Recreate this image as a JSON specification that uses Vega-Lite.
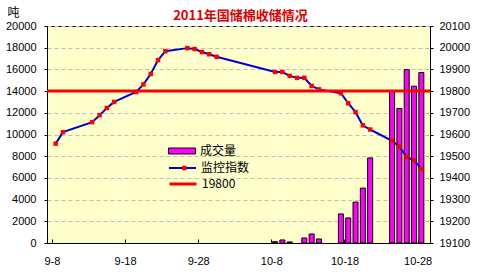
{
  "$schema": "https://vega.github.io/schema/vega-lite/v6.json",
  "autosize": {"type": "none"},
  "width": 383,
  "height": 217,
  "padding": {"left": 47, "top": 26, "right": 53, "bottom": 30},
  "background": "#FFFFFF",
  "title": {
    "text": "2011年国储棉收储情况",
    "font": "Noto Sans CJK SC",
    "fontSize": 13,
    "fontWeight": "bold",
    "color": "#DD0000",
    "anchor": "middle",
    "frame": "group",
    "baseline": "bottom",
    "offset": -30,
    "dx": 2
  },
  "datasets": {
    "volume": [
      {"date": "2011-10-08", "volume": 120},
      {"date": "2011-10-09", "volume": 280},
      {"date": "2011-10-10", "volume": 100},
      {"date": "2011-10-12", "volume": 460},
      {"date": "2011-10-13", "volume": 830},
      {"date": "2011-10-14", "volume": 370},
      {"date": "2011-10-17", "volume": 2680},
      {"date": "2011-10-18", "volume": 2310},
      {"date": "2011-10-19", "volume": 3770},
      {"date": "2011-10-20", "volume": 5060},
      {"date": "2011-10-21", "volume": 7840},
      {"date": "2011-10-24", "volume": 14020},
      {"date": "2011-10-25", "volume": 12400},
      {"date": "2011-10-26", "volume": 15980},
      {"date": "2011-10-27", "volume": 14450},
      {"date": "2011-10-28", "volume": 15710}
    ],
    "index": [
      {"date": "2011-09-08", "index": 19558},
      {"date": "2011-09-09", "index": 19611},
      {"date": "2011-09-13", "index": 19657},
      {"date": "2011-09-14", "index": 19689},
      {"date": "2011-09-15", "index": 19722},
      {"date": "2011-09-16", "index": 19750},
      {"date": "2011-09-19", "index": 19796},
      {"date": "2011-09-20", "index": 19831},
      {"date": "2011-09-21", "index": 19879},
      {"date": "2011-09-22", "index": 19943},
      {"date": "2011-09-23", "index": 19984},
      {"date": "2011-09-26", "index": 19998},
      {"date": "2011-09-27", "index": 19994},
      {"date": "2011-09-28", "index": 19980},
      {"date": "2011-09-29", "index": 19970},
      {"date": "2011-09-30", "index": 19958},
      {"date": "2011-10-08", "index": 19888},
      {"date": "2011-10-09", "index": 19888},
      {"date": "2011-10-10", "index": 19870},
      {"date": "2011-10-11", "index": 19861},
      {"date": "2011-10-12", "index": 19861},
      {"date": "2011-10-13", "index": 19824},
      {"date": "2011-10-14", "index": 19808},
      {"date": "2011-10-17", "index": 19790},
      {"date": "2011-10-18", "index": 19744},
      {"date": "2011-10-19", "index": 19703},
      {"date": "2011-10-20", "index": 19642},
      {"date": "2011-10-21", "index": 19623},
      {"date": "2011-10-24", "index": 19571},
      {"date": "2011-10-25", "index": 19544},
      {"date": "2011-10-26", "index": 19497},
      {"date": "2011-10-27", "index": 19481},
      {"date": "2011-10-28", "index": 19441}
    ],
    "level": [
      {"level": 19800}
    ]
  },
  "layer": [
    {
      "data": {"name": "volume"},
      "mark": {"type": "bar", "size": 5, "stroke": "#000000", "strokeWidth": 1},
      "encoding": {
        "x": {
          "field": "date", "type": "temporal",
          "scale": {"type": "utc", "domain": [
            {"year": 2011, "month": 9, "date": 7, "hours": 12, "utc": true},
            {"year": 2011, "month": 10, "date": 28, "hours": 12, "utc": true}
          ]},
          "axis": {
            "title": null,
            "format": "%-m-%-d",
            "values": [
              {"year": 2011, "month": 9, "date": 8, "utc": true},
              {"year": 2011, "month": 9, "date": 18, "utc": true},
              {"year": 2011, "month": 9, "date": 28, "utc": true},
              {"year": 2011, "month": 10, "date": 8, "utc": true},
              {"year": 2011, "month": 10, "date": 18, "utc": true},
              {"year": 2011, "month": 10, "date": 28, "utc": true}
            ],
            "grid": false,
            "tickSize": -4,
            "tickOffset": -3.75,
            "labelOffset": 0,
            "labelPadding": 16,
            "labelFlush": false,
            "labelOverlap": false
          }
        },
        "y": {
          "field": "volume", "type": "quantitative",
          "scale": {"domain": [0, 20000], "nice": false},
          "axis": {
            "title": "吨",
            "titleAngle": 0,
            "titleX": -34,
            "titleY": -7,
            "titleAlign": "center",
            "titleBaseline": "bottom",
            "titleFont": "Noto Sans CJK SC",
            "titleFontSize": 12,
            "titleFontWeight": "normal",
            "format": "d",
            "values": [0, 2000, 4000, 6000, 8000, 10000, 12000, 14000, 16000, 18000, 20000],
            "grid": true,
            "gridDash": [4, 3],
            "gridColor": "#BFBFBF",
            "tickSize": 3,
            "labelPadding": 8,
            "labelOverlap": false
          }
        },
        "fill": {
          "datum": "成交量",
          "type": "nominal",
          "scale": {"domain": ["成交量"], "range": ["#FF00FF"]},
          "legend": {
            "title": null,
            "orient": "none",
            "legendX": 121,
            "legendY": 118,
            "symbolSize": 729,
            "symbolType": "M-1,-0.22H1V0.22H-1Z",
            "symbolStrokeColor": "#000000",
            "symbolStrokeWidth": 1,
            "clipHeight": 14,
            "labelOffset": 4,
            "labelFont": "Noto Sans CJK SC",
            "labelFontSize": 12,
            "labelColor": "#000000",
            "padding": 0
          }
        }
      }
    },
    {
      "layer": [
        {
          "data": {"name": "index"},
          "mark": {"type": "line", "strokeWidth": 2},
          "encoding": {
            "x": {
              "field": "date", "type": "temporal",
              "scale": {"type": "utc"}
            },
            "y": {
              "field": "index", "type": "quantitative",
              "scale": {"domain": [19100, 20100], "nice": false, "zero": false},
              "axis": {
                "orient": "right",
                "title": null,
                "format": "d",
                "values": [19100, 19200, 19300, 19400, 19500, 19600, 19700, 19800, 19900, 20000, 20100],
                "grid": false,
                "tickSize": 3,
                "labelPadding": 6,
                "labelOverlap": false
              }
            },
            "stroke": {
              "datum": "监控指数",
              "type": "nominal",
              "scale": {"domain": ["监控指数"], "range": ["#0000CC"]},
              "legend": {
                "title": null,
                "orient": "none",
                "legendX": 121,
                "legendY": 135,
                "symbolSize": 729,
                "symbolType": "M-1,0H1",
                "symbolStrokeWidth": 2,
                "clipHeight": 14,
                "labelOffset": 4,
                "labelFont": "Noto Sans CJK SC",
                "labelFontSize": 12,
                "labelColor": "#000000",
                "padding": 0
              }
            }
          }
        },
        {
          "data": {"name": "level"},
          "mark": {"type": "rule", "strokeWidth": 3},
          "encoding": {
            "y": {
              "field": "level", "type": "quantitative",
              "axis": {
                "orient": "right",
                "title": null,
                "format": "d",
                "values": [19100, 19200, 19300, 19400, 19500, 19600, 19700, 19800, 19900, 20000, 20100],
                "grid": false,
                "tickSize": 3,
                "labelPadding": 6,
                "labelOverlap": false
              }
            },
            "color": {
              "datum": "19800",
              "type": "nominal",
              "scale": {"domain": ["19800"], "range": ["#FF0000"]},
              "legend": {
                "title": null,
                "orient": "none",
                "legendX": 121,
                "legendY": 151,
                "symbolSize": 729,
                "symbolType": "M-1,0H1",
                "symbolStrokeWidth": 3,
                "clipHeight": 14,
                "labelOffset": 4,
                "labelFont": "Noto Sans CJK SC",
                "labelFontSize": 12,
                "labelColor": "#000000",
                "padding": 0
              }
            }
          }
        },
        {
          "data": {"name": "index"},
          "mark": {"type": "point", "filled": true, "color": "#FF0000", "opacity": 1, "size": 20},
          "encoding": {
            "x": {
              "field": "date", "type": "temporal",
              "scale": {"type": "utc"}
            },
            "y": {
              "field": "index", "type": "quantitative",
              "axis": {
                "orient": "right",
                "title": null,
                "format": "d",
                "values": [19100, 19200, 19300, 19400, 19500, 19600, 19700, 19800, 19900, 20000, 20100],
                "grid": false,
                "tickSize": 3,
                "labelPadding": 6,
                "labelOverlap": false
              }
            },
            "shape": {
              "datum": "marker",
              "type": "nominal",
              "scale": {"domain": ["marker"], "range": ["square"]},
              "legend": {
                "title": null,
                "orient": "none",
                "legendX": 132.3,
                "legendY": 135,
                "symbolSize": 20,
                "symbolFillColor": "#FF0000",
                "symbolStrokeColor": "#FF0000",
                "symbolStrokeWidth": 0,
                "symbolOpacity": 1,
                "clipHeight": 14,
                "labelExpr": "''",
                "padding": 0
              }
            }
          }
        }
      ]
    }
  ],
  "resolve": {"scale": {"y": "independent"}},
  "config": {
    "view": {"stroke": "#000000", "strokeWidth": 1, "fill": "#FFFFCC"},
    "axis": {
      "domainColor": "#000000",
      "tickColor": "#000000",
      "labelColor": "#000000",
      "labelFont": "Liberation Sans",
      "labelFontSize": 11,
      "titleColor": "#000000",
      "labelOverlap": false
    }
  }
}
